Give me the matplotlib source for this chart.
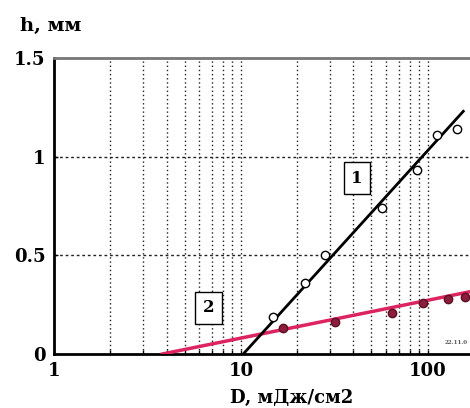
import numpy as np
import matplotlib.pyplot as plt

# series 1: open circles + black fit line
d1 = [14.8, 22.0, 28.1, 56.8, 87.3, 111.7, 142.9]
h1 = [0.19, 0.36, 0.50, 0.74, 0.93, 1.11, 1.14]
fit1_d = [10.3, 155.0]
fit1_h = [0.0, 1.23]

# series 2: filled circles + red fit line
d2 = [16.8, 31.8, 64.2, 94.0, 128.0, 157.7]
h2 = [0.13, 0.16, 0.21, 0.26, 0.28, 0.29]
fit2_d = [3.8, 200.0]
fit2_h = [0.0, 0.33]

yticks = [0, 0.5, 1, 1.5]
ytick_labels = ['0', '0.5', '1', '1.5']
xticks = [1, 10, 100]
xtick_labels = ['1', '10', '100']

plt.rcParams['font.family'] = ['DejaVu Serif']
plt.rcParams['font.weight'] = 'bold'

fig = plt.figure(figsize=(4.7, 4.08), dpi=100)
ax = fig.add_axes([54 / 470, 54 / 408, 430 / 470, 296 / 408])

ax.set_xscale('log')
ax.set_xlim(1, 200)
ax.set_ylim(0, 1.5)

# grid
for v in list(range(2, 10)) + [10] + list(range(20, 100, 10)) + [100]:
    ax.axvline(v, color='#222222', lw=1.0, ls=(0, (1, 2)), zorder=1)
for v in [0.5, 1.0]:
    ax.axhline(v, color='#222222', lw=1.0, ls=(0, (2, 2)), zorder=1)

ax.plot(fit2_d, fit2_h, color='#dc2460', lw=2.5, zorder=3)
ax.plot(d2, h2, 'o', ms=6, mfc='#8e1d3d', mec='#5a0f22', mew=1, zorder=4)

ax.plot(fit1_d, fit1_h, color='black', lw=2, zorder=3)
ax.plot(d1, h1, 'o', ms=6, mfc='white', mec='black', mew=1, zorder=4)

ax.text(41.7, 0.89, '1', fontsize=12, ha='center', va='center', zorder=5,
        bbox=dict(boxstyle='square,pad=0.45', fc='white', ec='black', lw=1))
ax.text(6.73, 0.235, '2', fontsize=12, ha='center', va='center', zorder=5,
        bbox=dict(boxstyle='square,pad=0.45', fc='white', ec='black', lw=1))
fig.text(468 / 470, 1 - 343 / 408, '22.11.0', fontsize=4, color='#555555',
         ha='right', va='center', zorder=5)

ax.set_xticks(xticks)
ax.set_xticklabels(xtick_labels)
ax.set_yticks(yticks)
ax.set_yticklabels(ytick_labels)
ax.tick_params(axis='both', which='both', direction='in', labelsize=13, length=3, width=1)
ax.tick_params(axis='x', pad=6)
ax.tick_params(axis='y', pad=6)

for s in ['left', 'bottom']:
    ax.spines[s].set_linewidth(2)
ax.spines['top'].set_linewidth(2)
ax.spines['top'].set_color('#777777')
ax.spines['right'].set_visible(False)

fig.text(20 / 470, 1 - 26 / 408, 'h, мм', fontsize=14, ha='left', va='center')
fig.text(292 / 470, 1 - 398 / 408, 'D, мДж/см2', fontsize=13, ha='center', va='center')

fig.savefig('out.png', dpi=100)
